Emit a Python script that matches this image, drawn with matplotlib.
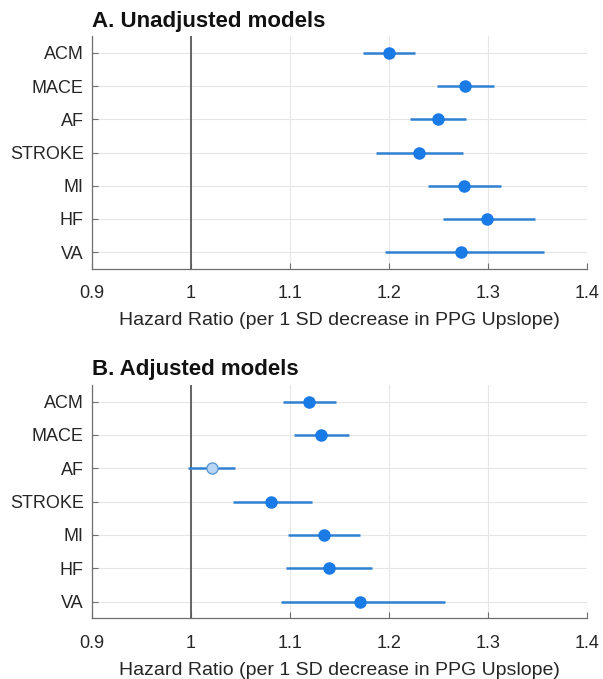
import matplotlib
matplotlib.use("Agg")
import matplotlib.pyplot as plt
import numpy as np

plt.rcParams.update({
    "font.family": ["Liberation Sans", "DejaVu Sans"],
    "font.size": 11,
})

outcomes = ["ACM", "MACE", "AF", "STROKE", "MI", "HF", "VA"]

# Panel A: unadjusted hazard ratios
hr_unadj = [1.200, 1.277, 1.249, 1.230, 1.276, 1.299, 1.273]
lo_unadj = [1.174, 1.248, 1.221, 1.187, 1.239, 1.254, 1.196]
hi_unadj = [1.226, 1.306, 1.278, 1.275, 1.313, 1.347, 1.356]

# Panel B: adjusted hazard ratios
hr_adj = [1.119, 1.131, 1.021, 1.081, 1.134, 1.139, 1.171]
lo_adj = [1.093, 1.104, 0.997, 1.042, 1.098, 1.096, 1.091]
hi_adj = [1.146, 1.160, 1.044, 1.122, 1.171, 1.183, 1.256]
sig_adj = [True, True, False, True, True, True, True]

xticks = [0.9, 1.0, 1.1, 1.2, 1.3, 1.4]
xticklabels = ["0.9", "1", "1.1", "1.2", "1.3", "1.4"]

LINE_C = "#2f80d0"
DOT_C = "#1a7ae6"
XLABEL = "Hazard Ratio (per 1 SD decrease in PPG Upslope)"

fig = plt.figure(figsize=(6.03, 6.79), dpi=100)
ax_a = fig.add_axes([0.1526, 0.6044, 0.821, 0.342])
ax_b = fig.add_axes([0.1526, 0.0895, 0.821, 0.3435])


def forest(ax, hr, lo, hi, sig, title):
    y = np.arange(1, len(outcomes) + 1)
    ax.axvline(1.0, color="#5a5a5a", lw=1.3, zorder=2)
    for yi, h, l, u, s in zip(y, hr, lo, hi, sig):
        ax.plot([l, u], [yi, yi], color=LINE_C, lw=1.8, zorder=3,
                solid_capstyle="butt")
        if s:
            ax.plot(h, yi, "o", ms=8, color=DOT_C, mec=DOT_C, zorder=4)
        else:
            ax.plot(h, yi, "o", ms=8, mfc="#b9d6f4", mec="#5b9ad8",
                    mew=1.0, zorder=4)
    ax.set_xlim(0.9, 1.4)
    ax.set_ylim(len(outcomes) + 0.5, 0.5)
    ax.set_yticks(y)
    ax.set_yticklabels(outcomes)
    ax.set_xticks(xticks)
    ax.set_xticklabels(xticklabels)
    ax.grid(True, color="#e6e6e6", lw=0.8, zorder=0)
    ax.set_axisbelow(True)
    for side in ("top", "right"):
        ax.spines[side].set_visible(False)
    for side in ("left", "bottom"):
        ax.spines[side].set_color("#6e6e6e")
        ax.spines[side].set_linewidth(0.9)
    ax.tick_params(direction="in", length=4, color="#6e6e6e",
                   labelsize=13, labelcolor="#262626")
    ax.tick_params(axis="x", pad=12)
    ax.tick_params(axis="y", pad=6)
    ax.set_xlabel(XLABEL, fontsize=14, color="#262626", labelpad=7)
    ax.set_title(title, fontsize=16, fontweight="bold", loc="left",
                 x=0.0, pad=7, color="#111111")


forest(ax_a, hr_unadj, lo_unadj, hi_unadj, [True] * 7, "A. Unadjusted models")
forest(ax_b, hr_adj, lo_adj, hi_adj, sig_adj, "B. Adjusted models")

fig.savefig("out.png", dpi=100)
